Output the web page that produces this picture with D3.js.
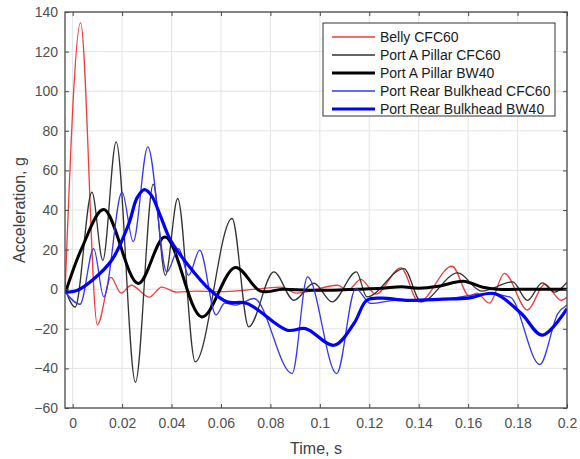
<!DOCTYPE html>
<html>
<head>
<meta charset="utf-8">
<script src="https://cdn.jsdelivr.net/npm/d3@7"></script>
<style>
  body { margin: 0; background: #fff; }
  text { font-family: "Liberation Sans", Arial, sans-serif; }
</style>
</head>
<body>
<div id="bdy"></div>
<script>
var width = 580;
var height = 459;

// series names (legend order)
var seriesNames = ["Belly CFC60", "Port A Pillar CFC60", "Port A Pillar BW40",
                   "Port Rear Bulkhead CFC60", "Port Rear Bulkhead BW40"];

// tick values
var xTicks = [0, 0.02, 0.04, 0.06, 0.08, 0.1, 0.12, 0.14, 0.16, 0.18, 0.2];
var yTicks = [-60, -40, -20, 0, 20, 40, 60, 80, 100, 120, 140];

// Belly CFC60
var bellyT = [-0.003, 0.0032, 0.010, 0.0155, 0.0196, 0.0237, 0.031, 0.036, 0.042, 0.05, 0.06, 0.07,
              0.0841, 0.0906, 0.1072, 0.1113, 0.1166, 0.1226, 0.1328, 0.140, 0.1535, 0.1605, 0.1635,
              0.1686, 0.1747, 0.184, 0.191, 0.1977, 0.2];
var bellyV = [1, 134.5, -18, 6, -2, 2, -4, 1, -1.5, -1, -1.2, -0.5,
              1, -2, 2, -0.5, 5, -2.5, 10.8, -6.4, 11.6, -3.5, -2,
              -7, 8, -10.5, 2.5, -5.6, -4];

// Port A Pillar CFC60
var pillarT = [-0.003, 0.001, 0.0078, 0.0122, 0.0176, 0.0254, 0.0326, 0.0375, 0.0425, 0.0496, 0.0645,
               0.0712, 0.0814, 0.0895, 0.0976, 0.105, 0.1148, 0.119, 0.134, 0.141, 0.1558, 0.1655,
               0.178, 0.184, 0.190, 0.195, 0.2];
var pillarV = [0, -9, 49, 14.6, 74.4, -47, 53, 7, 45.8, -36.7, 35.7,
               -19, 8.7, -5.6, 3, -6.4, 8.7, -3.9, 10.4, -6.4, 8.2, -1,
               3.7, -5.6, 3.2, -1.5, 3.5];

// Port A Pillar BW40
var pillarBwT = [-0.003, 0.0038, 0.0126, 0.0265, 0.0374, 0.0523, 0.0658, 0.076, 0.085, 0.095, 0.105,
                 0.115, 0.125, 0.133, 0.14, 0.148, 0.158, 0.166, 0.172, 0.185, 0.2];
var pillarBwV = [-2, 21, 40.2, 2.9, 26.4, -14, 11, -1, 0, -0.5, -0.5,
                 0, 0.5, 1.2, 0.5, 1.5, 4, 1, 0, 0, 0];

// Port Rear Bulkhead CFC60
var bulkT = [-0.003, 0.003, 0.0085, 0.0126, 0.020, 0.0245, 0.0304, 0.0381, 0.0429, 0.0469, 0.0514,
             0.058, 0.0615, 0.066, 0.0733, 0.0888, 0.095, 0.1068, 0.1145, 0.1206, 0.13, 0.15,
             0.168, 0.177, 0.189, 0.1963, 0.2];
var bulkV = [-1.4, -7.6, 20.5, -3.9, 49, 24, 71.9, 8.7, 20.5, 7, 19.7,
             -13, -7, -8, -4.7, -42.6, 6.2, -42.6, 0.3, -7.2, -5.6, -5,
             -2.2, -4, -38, -12.3, -8];

// Port Rear Bulkhead BW40
var bulkBwT = [-0.003, 0.002, 0.0084, 0.016, 0.0227, 0.026, 0.029, 0.0318, 0.0355, 0.0395, 0.0462,
               0.0557, 0.0625, 0.0706, 0.0868, 0.0942, 0.1057, 0.1138, 0.119, 0.125, 0.135, 0.15,
               0.16, 0.1706, 0.1815, 0.190, 0.2];
var bulkBwV = [-1.5, -0.5, 5, 15, 33, 46, 50.3, 47.5, 37, 25, 13,
               -0.5, -6.4, -7.2, -20.7, -19.9, -28.3, -17.3, -5.6, -4.5, -5.6, -5,
               -4.5, -2.2, -12.3, -23.2, -9.8];

var seriesT = [bellyT, pillarT, pillarBwT, bulkT, bulkBwT];
var seriesV = [bellyV, pillarV, pillarBwV, bulkV, bulkBwV];

var colors = ["rgb(240,60,60)", "rgb(50,50,50)", "#000", "rgb(55,55,240)", "rgb(0,0,255)"];
var widths = [1.3, 1.3, 3, 1.3, 3.2];
var curves = [d3.curveMonotoneX, d3.curveMonotoneX, d3.curveCatmullRom.alpha(0.5),
              d3.curveMonotoneX, d3.curveCatmullRom.alpha(0.5)];

//========================================================================
//                      DRAW CHART
//========================================================================
var margin = {top: 12, right: 13, bottom: 51, left: 65};
var w = width - margin.left - margin.right;
var h = height - margin.top - margin.bottom;

var svg = d3.select('#bdy').append('svg')
    .attr('width', width)
    .attr('height', height)
    .style('display', 'block');

svg.append('rect').attr('width', width).attr('height', height).attr('fill', '#fff');

var g = svg.append('g')
    .attr('transform', 'translate(' + margin.left + ',' + margin.top + ')');

var xScale = d3.scaleLinear().domain([-0.0031, 0.2]).range([0, w]);
var yScale = d3.scaleLinear().domain([-60, 140]).range([h, 0]);

// grid
g.append('g').selectAll('line')
    .data(xTicks)
    .enter().append('line')
    .attr('x1', function(d) { return xScale(d); })
    .attr('x2', function(d) { return xScale(d); })
    .attr('y1', 0).attr('y2', h)
    .attr('stroke', '#e3e3e3');
g.append('g').selectAll('line')
    .data(yTicks)
    .enter().append('line')
    .attr('y1', function(d) { return yScale(d); })
    .attr('y2', function(d) { return yScale(d); })
    .attr('x1', 0).attr('x2', w)
    .attr('stroke', '#e3e3e3');

// lines
g.append('clipPath').attr('id', 'clip')
    .append('rect').attr('width', w).attr('height', h);

seriesNames.forEach(function(name, i) {
    var pts = seriesT[i].map(function(t, j) { return [t, seriesV[i][j]]; });
    var line = d3.line()
        .x(function(d) { return xScale(d[0]); })
        .y(function(d) { return yScale(d[1]); })
        .curve(curves[i]);
    g.append('path')
        .datum(pts)
        .attr('clip-path', 'url(#clip)')
        .attr('d', line)
        .attr('fill', 'none')
        .attr('stroke', colors[i])
        .attr('stroke-width', widths[i])
        .attr('stroke-linejoin', 'round');
});

// axes (box with inward ticks)
var fmt = function(d) { return d === 0 ? '0' : String(+d.toFixed(2)); };
var axisColor = '#4a4a4a';

var xAxis = g.append('g')
    .attr('transform', 'translate(0,' + h + ')')
    .call(d3.axisBottom(xScale).tickValues(xTicks).tickSize(-4).tickPadding(10).tickFormat(fmt));
var xTop = g.append('g')
    .call(d3.axisTop(xScale).tickValues(xTicks).tickSize(-4).tickFormat(''));
var yAxis = g.append('g')
    .call(d3.axisLeft(yScale).tickValues(yTicks).tickSize(-4).tickPadding(7));
var yRight = g.append('g')
    .attr('transform', 'translate(' + w + ',0)')
    .call(d3.axisRight(yScale).tickValues(yTicks).tickSize(-4).tickFormat(''));

[xAxis, xTop, yAxis, yRight].forEach(function(a) {
    a.select('.domain').remove();
    a.selectAll('line').attr('stroke', axisColor);
    a.selectAll('text')
        .attr('fill', '#505050')
        .style('font-size', '14px')
        .style('font-family', '"Liberation Sans", Arial, sans-serif');
});

g.append('rect')
    .attr('width', w).attr('height', h)
    .attr('fill', 'none')
    .attr('stroke', axisColor)
    .attr('stroke-width', 1.3);

// axis labels
g.append('text')
    .attr('x', w / 2)
    .attr('y', h + 46)
    .attr('text-anchor', 'middle')
    .attr('fill', '#404040')
    .style('font-size', '16px')
    .text('Time, s');

g.append('text')
    .attr('transform', 'translate(' + (-40) + ',' + (h / 2) + ') rotate(-90)')
    .attr('text-anchor', 'middle')
    .attr('fill', '#404040')
    .style('font-size', '16px')
    .text('Acceleration, g');

// legend
var legend = svg.append('g')
    .attr('transform', 'translate(323,23)');

legend.append('rect')
    .attr('width', 232).attr('height', 93)
    .attr('fill', '#fff')
    .attr('stroke', '#333')
    .attr('stroke-width', 1);

var items = legend.selectAll('.item')
    .data(seriesNames)
    .enter().append('g')
    .attr('transform', function(d, i) { return 'translate(0,' + (14 + i * 18) + ')'; });

items.append('line')
    .attr('x1', 9).attr('x2', 52)
    .attr('stroke', function(d, i) { return colors[i]; })
    .attr('stroke-width', function(d, i) { return widths[i]; });

items.append('text')
    .attr('x', 57)
    .attr('dy', '0.35em')
    .attr('fill', '#1a1a1a')
    .style('font-size', '14px')
    .text(function(d) { return d; });
</script>
</body>
</html>
